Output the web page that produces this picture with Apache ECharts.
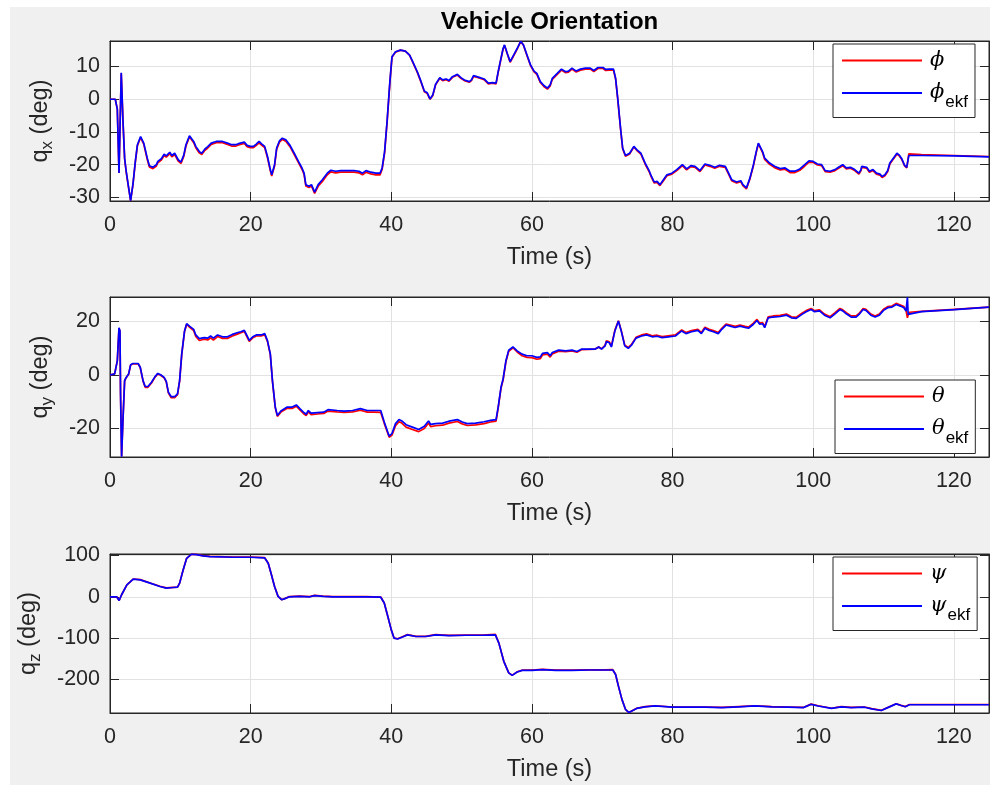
<!DOCTYPE html>
<html>
<head>
<meta charset="utf-8">
<script src="https://cdn.jsdelivr.net/npm/echarts@6/dist/echarts.min.js"></script>
<style>
  html, body { margin: 0; padding: 0; background: #ffffff; }
  #frame { position: absolute; left: 10px; top: 7px; width: 980px; height: 778px; background: #f0f0f0; }
  #chart { position: absolute; left: 0; top: 0; width: 990px; height: 785px; }
</style>
</head>
<body>
<div id="frame"></div>
<div id="chart"></div>
<script>
// ---- Roll (phi) ----
const time1 = [0,0.75,1.04,1.28,1.35,1.6,1.85,2.08,2.3,2.65,
  2.93,3.26,3.6,3.9,4.35,4.8,5.3,5.6,6.1,6.6,
  6.8,7.3,7.7,8.0,8.5,8.8,9.2,9.4,9.7,10.1,
  10.5,10.8,11.3,11.5,11.9,12.2,12.7,13.05,13.5,13.9,
  14.4,15.1,16.0,16.7,17.3,17.9,18.4,18.6,19.1,19.5,
  19.95,20.4,20.8,21.2,21.6,22.0,22.4,22.8,23.0,23.4,
  23.7,24.1,24.5,25.0,25.6,26.2,26.8,27.3,27.6,27.85,
  28.3,28.65,29.1,29.6,30.2,30.9,31.4,32.1,32.8,33.8,
  34.7,35.4,35.9,36.4,37.1,37.8,38.4,38.7,39.05,39.4,
  39.8,40.1,40.6,41.3,42.0,42.6,43.0,43.7,44.2,44.7,
  45.1,45.5,45.9,46.3,46.9,47.3,47.8,48.2,48.7,49.4,
  49.9,50.4,51.1,51.4,51.7,52.5,53.2,53.8,54.4,54.9,
  55.2,55.5,55.9,56.1,56.5,56.9,57.4,57.9,58.4,58.8,
  59.3,59.8,60.3,60.7,61.2,61.7,62.2,62.6,62.9,63.6,
  64.2,64.8,65.2,65.7,66.3,66.9,67.6,68.3,68.8,69.4,
  70.1,70.5,71.0,71.6,71.9,72.2,72.6,72.9,73.3,73.9,
  74.5,74.9,75.5,76.1,76.7,77.0,77.4,77.8,78.2,78.7,
  79.2,79.9,80.6,81.4,82.0,82.6,83.2,83.9,84.6,85.3,
  86.0,86.7,87.5,87.9,88.4,89.1,89.7,90.0,90.5,91.0,
  91.5,91.9,92.2,92.4,92.8,93.1,93.8,94.5,95.3,96.0,
  96.7,97.4,98.1,98.8,99.4,100.0,100.6,101.2,101.7,102.4,
  103.1,103.6,104.2,104.7,105.3,105.9,106.5,106.8,106.9,107.6,
  108.0,108.5,109.0,109.5,109.8,110.2,110.6,110.9,111.4,111.9,
  112.2,112.6,113.0,113.3,113.6,115.4,120.1,125];
const phi = [0,0,-3,-22.5,-22,7.9,-7,-18.2,-22.2,-27.2,
  -31,-26.2,-19.3,-14.2,-11.7,-13.7,-18.4,-20.7,-21.2,-20.4,
  -19.4,-18.6,-17.2,-17.7,-16.6,-17.6,-16.9,-17.4,-18.9,-19.6,
  -17.4,-14.3,-11.5,-11.4,-13.3,-14.8,-16.4,-16.9,-15.6,-14.9,
  -13.8,-13.3,-13.3,-13.8,-14.3,-14.3,-13.9,-14.5,-13.5,-14.5,
  -14.8,-14.8,-14.1,-13.3,-14.1,-14.8,-17.9,-21.9,-23.5,-20.4,
  -15.3,-13.1,-12.3,-12.8,-14.5,-16.9,-19.4,-21.4,-23,-26.5,
  -27,-26.5,-28.8,-26.6,-25.1,-23.1,-22.2,-22.5,-22.3,-22.3,
  -22.3,-22.5,-23.1,-22.3,-22.8,-23.1,-23.1,-21.4,-16.4,-7.2,
  5,12.8,14.4,15,14.7,13.5,11.6,8.2,5.4,2.3,
  1.8,0,1.1,4.4,6.4,5.7,6,5.5,6.7,7.4,
  6.4,5.7,5.2,5.7,7,6.5,6,4.7,4.9,4.7,
  8.2,11.3,15.3,16.5,13.8,11.3,13.3,15.3,17.7,16.5,
  13.3,10.3,8.4,7.6,5.1,3.9,3.1,4.1,6.1,7.6,
  8.9,8.1,8.3,9.2,8.3,8.9,9.2,9.2,8.5,9.4,
  9.4,8.8,8.9,8.9,6.2,0.1,-9,-15.1,-17.4,-16.7,
  -14.6,-15.6,-16.8,-19.8,-22.3,-23.9,-25.6,-25.4,-26.4,-24.9,
  -23.4,-22.9,-21.8,-20.3,-21.6,-20.6,-20.8,-22.1,-20.1,-20.5,
  -21.1,-20.5,-20.8,-22.6,-24.9,-25.6,-25.2,-26.4,-27.4,-24.4,
  -20.3,-16.3,-13.6,-13.9,-16.3,-18.4,-19.9,-20.9,-21.6,-21.4,
  -22.4,-22.4,-21.7,-20.4,-19.2,-19.3,-20.1,-20.3,-22.1,-22.3,
  -21.8,-21.1,-20.3,-21.3,-21.1,-21.8,-22.9,-21.8,-20.8,-21.1,
  -22.3,-21.8,-22.9,-23.2,-23.9,-23.4,-22.1,-19.8,-18.3,-16.8,
  -17.2,-18.4,-20.4,-21,-16.7,-16.9,-17.2,-17.5];
const phiEkf = [0,0,-3,-22.5,-22,8.1,-6.8,-18,-22,-27,
  -31,-26,-19,-13.9,-11.4,-13.4,-18,-20.3,-20.8,-20,
  -19,-18.2,-16.8,-17.3,-16.2,-17.2,-16.5,-17,-18.5,-19.2,
  -17,-13.9,-11.2,-11.1,-12.9,-14.4,-16,-16.5,-15.2,-14.5,
  -13.4,-12.9,-12.9,-13.4,-13.9,-13.9,-13.5,-14.1,-13.1,-14.1,
  -14.4,-14.4,-13.7,-12.9,-13.7,-14.4,-17.5,-21.5,-23.1,-20,
  -14.9,-12.7,-11.9,-12.4,-14.1,-16.5,-19,-21,-22.6,-26.1,
  -26.6,-26.1,-28.4,-26.1,-24.6,-22.6,-21.7,-22,-21.8,-21.8,
  -21.8,-22,-22.6,-21.8,-22.3,-22.6,-22.6,-21,-16,-6.8,
  5.4,13,14.5,15,14.7,13.5,11.7,8.4,5.6,2.5,
  2.0,0.1,1.3,4.6,6.6,5.9,6.2,5.7,6.9,7.6,
  6.6,5.9,5.4,5.9,7.2,6.7,6.2,4.9,5.1,4.9,
  8.4,11.5,15.5,16.6,14.0,11.5,13.5,15.5,17.7,16.6,
  13.5,10.5,8.6,7.9,5.4,4.2,3.4,4.4,6.4,7.9,
  9.2,8.4,8.6,9.5,8.6,9.2,9.5,9.5,8.8,9.7,
  9.7,9.1,9.2,9.2,6.4,0.3,-8.8,-14.9,-17.2,-16.5,
  -14.4,-15.4,-16.5,-19.5,-22,-23.6,-25.3,-25.1,-26.1,-24.6,
  -23.1,-22.6,-21.5,-20,-21.3,-20.3,-20.5,-21.8,-19.8,-20.2,
  -20.8,-20.2,-20.5,-22.3,-24.6,-25.3,-24.9,-26.1,-27.1,-24.1,
  -20,-16,-13.4,-13.7,-16,-18,-19.5,-20.5,-21.2,-21,
  -22,-22,-21.3,-20,-18.8,-19,-19.8,-20,-21.8,-22,
  -21.5,-20.8,-20,-21,-20.8,-21.5,-22.6,-21.5,-20.5,-20.8,
  -22,-21.5,-22.6,-22.9,-23.6,-23.1,-21.8,-19.5,-18,-16.5,
  -17,-18.2,-20.2,-20.8,-17.2,-17.2,-17.3,-17.6];

// ---- Pitch (theta) ----
const time2 = [0,0.66,1.04,1.28,1.42,1.5,1.65,1.84,2.08,2.3,
  2.65,2.93,3.26,4.0,4.3,4.7,5.0,5.4,5.9,6.4,
  6.8,7.2,7.7,8.0,8.3,8.7,9.2,9.6,9.9,10.2,
  10.6,10.9,11.3,11.9,12.2,12.7,13.4,13.9,14.3,14.7,
  15.3,16.0,16.7,17.4,18.2,18.6,19.1,19.5,19.8,20.3,
  20.8,21.5,22.0,22.4,22.8,23.1,23.5,23.8,24.3,25.2,
  25.9,26.5,27.0,27.5,27.9,28.2,28.6,29.5,30.4,31.0,
  32.3,33.3,34.5,35.6,36.6,37.5,38.5,39.0,39.7,40.1,
  40.6,41.1,41.5,42.1,43.0,43.9,44.7,45.3,45.6,46.3,
  47.3,48.2,49.4,50.1,50.8,52.0,53.2,54.1,54.9,55.2,
  55.6,55.9,56.3,56.7,57.3,57.9,58.6,59.3,60.0,60.7,
  61.2,61.5,62.2,62.6,62.9,63.8,64.8,65.7,66.4,67.1,
  68.1,69.0,69.5,69.9,70.4,70.6,71.0,71.3,71.8,72.3,
  72.7,73.2,73.7,74.2,74.8,75.6,76.3,77.1,77.8,78.5,
  79.4,80.4,81.3,81.9,82.7,83.6,84.1,84.6,85.2,85.8,
  86.5,87.0,87.6,88.2,88.9,89.6,90.3,90.8,91.5,92.0,
  92.4,92.8,93.1,93.6,94.3,95.3,96.2,96.9,97.6,98.4,
  99.0,99.7,100.2,100.9,101.6,102.4,103.1,103.8,104.2,104.7,
  105.4,106.1,106.6,107.1,107.5,108.2,108.8,109.4,110.0,110.6,
  111.2,111.8,112.4,112.9,113.2,113.4,113.5,113.7,115.4,120.1,
  125];
const theta = [0,0.4,5.3,17.5,16.3,-7,-30.4,-17,-2.2,-1,
  0.3,3.7,4.2,4.2,2.8,-2.3,-4.6,-4.6,-3,-0.8,
  0.4,-0.1,-1.1,-2.6,-6.7,-8.5,-8.5,-7.4,-2.3,7.6,
  16.3,19,17.9,16.6,14.4,12.9,13.4,13.1,13.9,13.1,
  14.4,13.7,13.7,14.6,15.4,15.8,16.3,14.2,12.6,13.9,
  14.6,14.6,15.1,12.5,7.6,-2.3,-12.2,-15.5,-13.9,-12.5,
  -12.5,-11.7,-13.1,-14.4,-15.2,-13.8,-14.8,-14.6,-14.4,-13.5,
  -13.8,-14,-13.8,-13.2,-13.9,-13.9,-14,-18.1,-23.3,-22.5,
  -19,-17.5,-18,-19.5,-20.4,-21.2,-20,-18,-19.3,-19,
  -18.8,-18,-17.4,-18.3,-18.9,-18.7,-18.2,-17.6,-17.3,-12.4,
  -5,-1.9,4.9,8.9,10.2,8.6,7.2,6.6,6.5,5.9,
  6.1,7.5,7.8,6.7,7.9,8.9,8.7,9,8.5,9.5,
  9.6,9.7,10.5,9.8,11.1,12.8,12.4,10.8,16.8,20.3,
  16.7,11.2,10.3,11.6,14.1,15,15.4,14.7,14.9,14.4,
  14.7,15,16.9,15.9,16.6,17.1,15.9,17.9,17.1,16.6,
  15.9,17.5,19.1,18.7,18.2,18.7,18.2,17.9,19.4,20.8,
  19.4,19.6,18.1,21.8,22.1,22.3,22.8,21.8,21.6,23.1,
  24.1,24.9,24.1,24.4,22.8,21.8,23.3,24.9,24.4,23.3,
  22.1,22.1,23.3,24.9,24.6,22.8,22.1,22.8,24.6,25.6,
  25.8,26.8,26.2,25.6,24.2,21.4,22.5,23.5,23.8,24.6,
  25.4];
const thetaEkf = [0,0.4,5.3,17.7,16.5,-7,-30.6,-17,-2.1,-0.9,
  0.4,3.8,4.3,4.3,2.9,-2.1,-4.3,-4.3,-2.7,-0.6,
  0.6,0.1,-0.9,-2.4,-6.4,-8.1,-8.1,-7.1,-2.1,7.8,
  16.5,19.2,18.3,17.1,15,13.6,14,13.8,14.6,13.8,
  15,14.3,14.3,15.2,15.9,16.2,16.7,14.6,13,14.3,
  15,15,15.5,12.8,7.8,-2.1,-12,-15.2,-13.5,-12,
  -12,-11.2,-12.6,-13.9,-14.7,-13.3,-14.3,-14.1,-13.9,-13,
  -13.3,-13.5,-13.3,-12.6,-13.3,-13.3,-13.3,-17.6,-22.9,-21.9,
  -18.2,-16.7,-17.2,-18.6,-19.5,-20.4,-19.2,-17.2,-18.5,-18.2,
  -18,-17.3,-16.7,-17.6,-18.2,-18,-17.5,-17,-16.7,-12,
  -4.6,-1.5,5.3,9.3,10.5,9,7.8,7.2,7.2,6.6,
  6.8,8.1,8.4,7.2,8.4,9.3,9,9.3,8.8,9.7,
  9.7,9.7,10.5,9.7,10.9,12.5,12.1,10.5,16.5,20.2,
  16.5,10.9,10,11.3,13.8,14.6,15,14.3,14.5,14,
  14.3,14.6,16.5,15.5,16.2,16.7,15.5,17.5,16.7,16.2,
  15.5,17.1,18.7,18.3,17.8,18.3,17.8,17.5,19,20.4,
  19,19.2,17.7,21.4,21.7,21.9,22.4,21.4,21.2,22.7,
  23.7,24.5,23.7,24,22.4,21.4,22.9,24.5,24,22.9,
  21.7,21.7,22.9,24.5,24.2,22.4,21.7,22.4,24.2,25.2,
  25.4,26.4,25.8,25.2,23.9,29.1,22.7,23.3,23.7,24.5,
  25.4];

// ---- Yaw (psi) ----
const time3 = [0,0.95,1.3,1.65,2.4,3.3,4.3,5.7,7.1,8.0,
  9.0,9.6,9.9,10.4,10.9,11.6,12.3,13.2,14.2,17.5,
  19.9,22.0,22.5,22.9,23.4,23.9,24.4,24.8,25.5,26.9,
  28.4,29.1,30.3,31.7,36.4,38.5,39.0,39.5,40.0,40.4,
  40.9,41.6,42.3,43.5,44.9,46.3,48.2,50.6,53.0,54.8,
  55.3,56.0,56.7,57.2,57.9,58.6,60.0,61.5,63.4,65.7,
  68.1,70.4,71.5,71.9,72.3,72.8,73.3,73.8,74.2,74.9,
  76.1,77.5,79.9,82.3,84.6,87.0,89.4,91.7,94.1,96.4,
  98.6,99.7,100.7,102.6,104.0,105.4,107.3,108.3,109.7,110.6,
  111.8,112.5,113.1,113.7,115.4,120.1,125];
const psi = [0,0,-9,5,29,43,41.5,33.5,25.5,21.5,
  23,23.5,33,65,93,103,102.5,99.5,97.8,96.2,
  96.2,94.5,81,57,25,1,-7,-4.5,0.5,1.5,
  0.5,3.5,1.5,0.5,0.5,-0.5,-15,-47,-80,-100,
  -101.5,-96.5,-91.5,-95.5,-95.5,-91.5,-93.5,-92.5,-92.5,-91,
  -112,-156,-184,-189.5,-181.5,-177.5,-177.5,-175.5,-177.5,-177.5,
  -176.5,-176.5,-176,-188,-216,-248,-272,-280,-276,-269.5,
  -265.5,-263.5,-266.5,-266.5,-266.5,-267.5,-265.5,-263.5,-265.5,-266.5,
  -267.5,-259.5,-263.5,-269.5,-265.5,-267.5,-266.5,-270.5,-274.5,-267.5,
  -258.5,-262.5,-265.5,-260.5,-260.5,-260.5,-260.5];
const psiEkf = [0,0,-9,5,29,42.6,41,33,25,21,
  22.5,23.3,33,65,93,103,102,98.8,97.2,95.6,
  95.6,94,81,57,25,1,-7,-5,0,1,
  0,3,1,0,0,-1,-15,-47,-80,-100,
  -102,-97,-92,-96,-96,-92,-94,-93,-93,-92,
  -112,-156,-184,-190,-182,-178,-178,-176,-178,-178,
  -177,-177,-177,-188,-216,-248,-272,-280,-276,-270,
  -266,-264,-267,-267,-267,-268,-266,-264,-266,-267,
  -268,-260,-264,-270,-266,-268,-267,-271,-275,-268,
  -259,-263,-266,-261,-261,-261,-261];

// ---- Axis ranges and ticks ----
const timeRange = [0, 125];
const timeStep = 20;
const angleRanges = [[-31.1, 17.8], [-30.7, 29.2], [-281, 103.5]];
const angleSplits = [5, 3, 5];
const axisLetters = ['x', 'y', 'z'];
const seriesNames = [['phi', 'phi_ekf'], ['theta', 'theta_ekf'], ['psi', 'psi_ekf']];
const legendText = {
  phi: '{g|\u03D5}', phi_ekf: '{g|\u03D5}{s|ekf}',
  theta: '{g|\u03B8}', theta_ekf: '{g|\u03B8}{s|ekf}',
  psi: '{g|\u03C8}', psi_ekf: '{g|\u03C8}{s|ekf}'
};

const FONT = '"Liberation Sans", Arial, Helvetica, sans-serif';
const INK = '#262626';
const GRID_LINE = '#e2e2e2';

const layout = [
  { top: 41, height: 160, nameGap: 54, legend: [833, 44] },
  { top: 297, height: 160, nameGap: 54, legend: [835, 380] },
  { top: 554, height: 159, nameGap: 66, legend: [833, 557] }
];
const tracks = [[time1, phi, phiEkf], [time2, theta, thetaEkf], [time3, psi, psiEkf]];

const grid = [], xAxis = [], yAxis = [], series = [], legend = [];

layout.forEach((p, i) => {
  grid.push({ left: 110, top: p.top, width: 879, height: p.height,
    show: true, backgroundColor: '#ffffff', borderColor: INK, borderWidth: 1 });

  const tick = { inside: true, length: 9, lineStyle: { color: INK, width: 1 } };
  const line = { onZero: false, lineStyle: { color: INK, width: 1 } };

  xAxis.push({
    gridIndex: i, type: 'value', position: 'bottom',
    min: timeRange[0], max: timeRange[1], interval: timeStep,
    axisLine: line, axisTick: tick,
    axisLabel: { color: INK, fontSize: 21.5, fontFamily: FONT, margin: 13,
      showMinLabel: true, showMaxLabel: false },
    splitLine: { show: true, lineStyle: { color: GRID_LINE, width: 1 } },
    name: 'Time (s)', nameLocation: 'middle', nameGap: 45,
    nameTextStyle: { color: INK, fontSize: 23.5, fontFamily: FONT }
  });
  xAxis.push({
    gridIndex: i, type: 'value', position: 'top',
    min: timeRange[0], max: timeRange[1], interval: timeStep,
    axisLine: line, axisTick: tick, axisLabel: { show: false },
    splitLine: { show: false }
  });

  const [lo, hi] = angleRanges[i];
  yAxis.push({
    gridIndex: i, type: 'value', position: 'left',
    min: lo, max: hi, splitNumber: angleSplits[i],
    axisLine: line, axisTick: tick,
    axisLabel: { color: INK, fontSize: 21.5, fontFamily: FONT, margin: 10,
      showMinLabel: false, showMaxLabel: false },
    splitLine: { show: true, lineStyle: { color: GRID_LINE, width: 1 } },
    name: '{a|q}{b|' + axisLetters[i] + '}{a| (deg)}',
    nameLocation: 'middle', nameGap: p.nameGap, nameRotate: 90,
    nameTextStyle: {
      rich: {
        a: { color: INK, fontSize: 23.5, fontFamily: FONT, lineHeight: 30 },
        b: { color: INK, fontSize: 17, fontFamily: FONT, lineHeight: 14, verticalAlign: 'bottom' }
      }
    }
  });
  yAxis.push({
    gridIndex: i, type: 'value', position: 'right',
    min: lo, max: hi, splitNumber: angleSplits[i],
    axisLine: line, axisTick: tick, axisLabel: { show: false },
    splitLine: { show: false }
  });

  const [t, ref, est] = tracks[i];
  const colors = ['#ff0000', '#0000ff'];
  [ref, est].forEach((vals, k) => {
    series.push({
      name: seriesNames[i][k], type: 'line',
      xAxisIndex: 2 * i, yAxisIndex: 2 * i,
      data: t.map((ti, j) => [ti, vals[j]]),
      symbol: 'none', showSymbol: false, clip: true,
      lineStyle: { color: colors[k], width: 1.7 },
      itemStyle: { color: colors[k] },
      z: 2 + k
    });
  });

  legend.push({
    data: seriesNames[i], orient: 'vertical',
    left: p.legend[0], top: p.legend[1],
    icon: 'rect', itemWidth: 80, itemHeight: 2, itemGap: 4.5,
    padding: [6, 7, 7, 9],
    backgroundColor: '#ffffff', borderColor: INK, borderWidth: 1, borderRadius: 0,
    selectedMode: false,
    formatter: name => legendText[name],
    textStyle: {
      rich: {
        g: { fontFamily: '"DejaVu Serif", serif', fontStyle: 'italic', fontSize: 21,
             lineHeight: 24, padding: [0, 0, 0, 3], color: '#000' },
        s: { fontFamily: FONT, fontSize: 17, lineHeight: 17, padding: [18, 0, 0, 1], color: '#000' }
      }
    }
  });
});

const chart = echarts.init(document.getElementById('chart'), null, { renderer: 'canvas' });
chart.setOption({
  animation: false,
  backgroundColor: 'transparent',
  grid, xAxis, yAxis, series, legend,
  graphic: [{
    type: 'text', x: 549.5, y: 22,
    style: { text: 'Vehicle Orientation', font: 'bold 24px "Liberation Sans", Arial, sans-serif',
      fill: '#000', textAlign: 'center', textVerticalAlign: 'middle' }
  }]
});
</script>
</body>
</html>
